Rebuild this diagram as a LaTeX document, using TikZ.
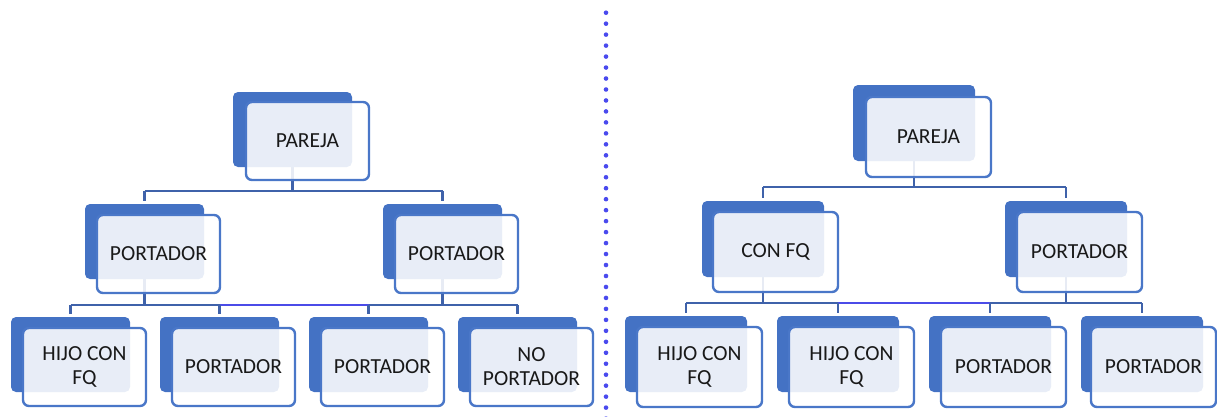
\documentclass[tikz,border=0pt]{standalone}
\usepackage{fontspec}
\setmainfont{Carlito}
\usetikzlibrary{calc}
\pgfdeclarelayer{bg}
\pgfsetlayers{bg,main}
\definecolor{backblue}{HTML}{4472C4}
\definecolor{edgeblue}{HTML}{4A77C8}
\definecolor{connblue}{HTML}{3F62AA}
\definecolor{hiblue}{HTML}{4B4BE8}
\definecolor{dotblue}{HTML}{4A4AEE}
\begin{document}
\begin{tikzpicture}[x=1pt,y=-1pt,
 backL/.style={fill=backblue, rounded corners=5pt, anchor=north west, inner sep=0pt, outer sep=0pt, minimum width=119pt, minimum height=75pt},
 frontL/.style={draw=edgeblue, line width=2.4pt, fill=white, fill opacity=0.88, text opacity=1, rounded corners=6pt, anchor=north west, align=center, font=\fontsize{21.5}{24}\selectfont, inner sep=0pt, outer sep=0pt, text=black!90, minimum width=123pt, minimum height=78pt},
 backR/.style={backL, minimum width=122pt, minimum height=76pt},
 frontR/.style={frontL, minimum width=125pt, minimum height=80pt},
 conn/.style={draw=connblue, line width=2.4pt},
 hi/.style={draw=hiblue, line width=2.4pt},
 drop/.style={conn, shorten >=3pt}]
\useasboundingbox (0,0) rectangle (1217,416);

% ---------- left tree ----------
\node[backL] (lpb) at (233,92) {};
\node[frontL] (lp) at (246,102) {PAREJA};
\node[backL] (lab) at (85,204) {};
\node[frontL] (la) at (97,215) {PORTADOR};
\node[backL] (lbb) at (383,204) {};
\node[frontL] (lb) at (395,215) {PORTADOR};
\node[backL] (l1b) at (11,317) {};
\node[frontL] (l1) at (23,328) {HIJO CON\\FQ};
\node[backL] (l2b) at (160,317) {};
\node[frontL] (l2) at (172,328) {PORTADOR};
\node[backL] (l3b) at (309,317) {};
\node[frontL] (l3) at (321,328) {PORTADOR};
\node[backL] (l4b) at (458,317) {};
\node[frontL] (l4) at (470,328) {NO\\PORTADOR};

% ---------- right tree ----------
\node[backR] (rpb) at (853,85) {};
\node[frontR] (rp) at (866,97) {PAREJA};
\node[backR] (rab) at (702,201) {};
\node[frontR] (ra) at (713,212) {CON FQ};
\node[backR] (rbb) at (1005,201) {};
\node[frontR] (rb) at (1017,212) {PORTADOR};
\node[backR] (r1b) at (625,316) {};
\node[frontR] (r1) at (637,327) {HIJO CON\\FQ};
\node[backR] (r2b) at (777,316) {};
\node[frontR] (r2) at (789,327) {HIJO CON\\FQ};
\node[backR] (r3b) at (929,316) {};
\node[frontR] (r3) at (941,327) {PORTADOR};
\node[backR] (r4b) at (1081,316) {};
\node[frontR] (r4) at (1091,327) {PORTADOR};

\coordinate (yl1) at (0,191);
\coordinate (yl2) at (0,305);
\coordinate (yr1) at (0,187);
\coordinate (yr2) at (0,303);

\begin{pgfonlayer}{bg}
% left connectors
\draw[conn] (lpb.center) -- (lpb.center |- yl1);
\draw[conn] (lab.north |- yl1) -- (lbb.north |- yl1);
\draw[drop] (lab.north |- yl1) -- (lab.north);
\draw[drop] (lbb.north |- yl1) -- (lbb.north);
\draw[conn] (lab.center) -- (lab.center |- yl2);
\draw[conn] (lbb.center) -- (lbb.center |- yl2);
\draw[conn] (l1b.north |- yl2) -- (l4b.north |- yl2);
\draw[hi] (l2b.north |- yl2) -- (l3b.north |- yl2);
\draw[drop] (l1b.north |- yl2) -- (l1b.north);
\draw[drop] (l2b.north |- yl2) -- (l2b.north);
\draw[drop] (l3b.north |- yl2) -- (l3b.north);
\draw[drop] (l4b.north |- yl2) -- (l4b.north);
% right connectors
\draw[conn] (rpb.center) -- (rpb.center |- yr1);
\draw[conn] (rab.north |- yr1) -- (rbb.north |- yr1);
\draw[drop] (rab.north |- yr1) -- (rab.north);
\draw[drop] (rbb.north |- yr1) -- (rbb.north);
\draw[conn] (rab.center) -- (rab.center |- yr2);
\draw[conn] (rbb.center) -- (rbb.center |- yr2);
\draw[conn] (r1b.north |- yr2) -- (r4b.north |- yr2);
\draw[hi] (r2b.north |- yr2) -- (r3b.north |- yr2);
\draw[drop] (r1b.north |- yr2) -- (r1b.north);
\draw[drop] (r2b.north |- yr2) -- (r2b.north);
\draw[drop] (r3b.north |- yr2) -- (r3b.north);
\draw[drop] (r4b.north |- yr2) -- (r4b.north);
\end{pgfonlayer}

% divider
\foreach \i in {0,...,37}
  \fill[dotblue] (606,12.7+\i*10.97) circle[radius=2.3pt];
\end{tikzpicture}
\end{document}
